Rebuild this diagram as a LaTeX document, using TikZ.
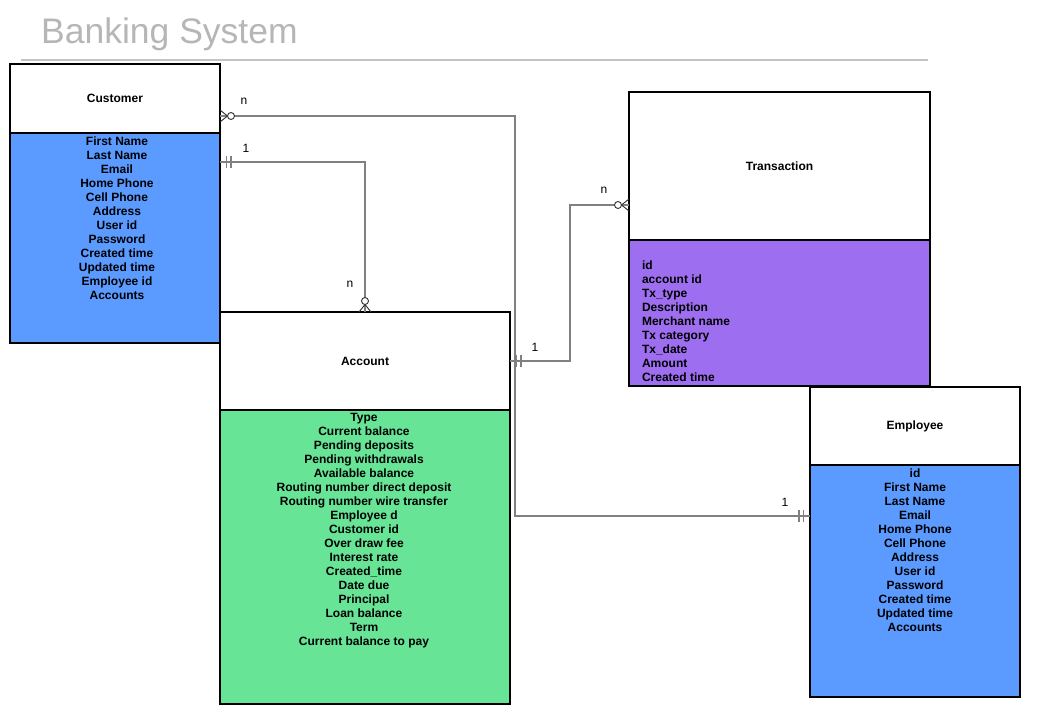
\documentclass[tikz,border=0pt]{standalone}
\usepackage{fontspec}
\setmainfont{Liberation Sans}
\usepackage{xcolor}
\usetikzlibrary{calc,decorations.markings,positioning}
\definecolor{custblue}{RGB}{91,155,255}
\definecolor{acctgreen}{RGB}{103,228,150}
\definecolor{txpurple}{RGB}{158,110,240}
\definecolor{titlegrey}{RGB}{182,182,182}
\definecolor{rulegrey}{RGB}{196,196,196}
\definecolor{linkgrey}{RGB}{128,128,128}
\tikzset{%
  entity/.style={rectangle,draw=black,line width=2pt,inner sep=0pt,outer sep=0pt,font=\bfseries\fontsize{12}{14}\selectfont},
  fields/.style={inner sep=0pt,outer sep=0pt,align=center,font=\bfseries\fontsize{12}{14}\selectfont},
  mult/.style={inner sep=0pt,font=\fontsize{12}{14}\selectfont},
  link/.style={draw=linkgrey,line width=1.5pt},
  foot/.style={draw=black!80,line width=0.9pt},
  tick/.style={draw=linkgrey,line width=1.5pt},
  zeromany start/.style={postaction={decorate,decoration={markings,mark=at position 0 with {
    \draw[foot] (0,-6pt) -- (7.5pt,0) (0,6pt) -- (7.5pt,0);
    \draw[foot,fill=white] (11pt,0) circle (3.5pt);}}}},
  zeromany end/.style={postaction={decorate,decoration={markings,mark=at position 1 with {
    \draw[foot] (0,-6pt) -- (-7.5pt,0) (0,6pt) -- (-7.5pt,0);
    \draw[foot,fill=white] (-11pt,0) circle (3.5pt);}}}},
  one start/.style={postaction={decorate,decoration={markings,mark=at position 0 with {
    \draw[tick] (6.5pt,-6pt) -- (6.5pt,6pt) (11pt,-6pt) -- (11pt,6pt);}}}},
  one end/.style={postaction={decorate,decoration={markings,mark=at position 1 with {
    \draw[tick] (-6.5pt,-6pt) -- (-6.5pt,6pt) (-11pt,-6pt) -- (-11pt,6pt);}}}},
}

\begin{document}
\begin{tikzpicture}[x=1pt,y=-1pt]
  \useasboundingbox (0,0) rectangle (1044,724);

  % title
  \node[anchor=base west,inner sep=0pt,text=titlegrey,font=\fontsize{35.5}{40}\selectfont] (title) at (41,43) {Banking System};
  \draw[rulegrey,line width=2pt] (21,60) -- (928,60);

  % entities
  \node[entity,anchor=north west,minimum width=210pt,minimum height=69pt] (customer) at (10,64) {Customer};
  \node[entity,fill=custblue,minimum width=210pt,minimum height=210pt,below=0pt of customer] (custfields) {};
  \node[fields,below=3.5pt of custfields.north,xshift=2pt] (custlist) {First Name\\Last Name\\Email\\Home Phone\\Cell Phone\\Address\\User id\\Password\\Created time\\Updated time\\Employee id\\Accounts};

  \node[entity,anchor=north west,minimum width=290pt,minimum height=98pt] (account) at (220,312) {Account};
  \node[entity,fill=acctgreen,minimum width=290pt,minimum height=294pt,below=0pt of account] (acctfields) {};
  \node[fields,below=3.5pt of acctfields.north,xshift=-1pt] (acctlist) {Type\\Current balance\\Pending deposits\\Pending withdrawals\\Available balance\\Routing number direct deposit\\Routing number wire transfer\\Employee d\\Customer id\\Over draw fee\\Interest rate\\Created\_time\\Date due\\Principal\\Loan balance\\Term\\Current balance to pay};

  \node[entity,anchor=north west,minimum width=301pt,minimum height=148pt] (transaction) at (629,92) {Transaction};
  \node[entity,fill=txpurple,minimum width=301pt,minimum height=146pt,below=0pt of transaction] (txfields) {};
  \node[fields,align=left,below right=20.5pt and 13pt of txfields.north west] (txlist) {id\\account id\\Tx\_type\\Description\\Merchant name\\Tx category\\Tx\_date\\Amount\\Created time};

  \node[entity,anchor=north west,minimum width=210pt,minimum height=78pt] (employee) at (810,387) {Employee};
  \node[entity,fill=custblue,minimum width=210pt,minimum height=232pt,below=0pt of employee] (empfields) {};
  \node[fields,below=3.5pt of empfields.north] (emplist) {id\\First Name\\Last Name\\Email\\Home Phone\\Cell Phone\\Address\\User id\\Password\\Created time\\Updated time\\Accounts};

  % relations
  \draw[link,zeromany start,one end] ([yshift=-17.5pt]customer.east) -- ++(295pt,0) |- ([yshift=-51pt]empfields.north west);
  \draw[link,one start,zeromany end] ([yshift=-29pt]custfields.north east) -| (account.north);
  \draw[link,one start,zeromany end] (account.east) -- ++(60pt,0) |- ([yshift=-39pt]transaction.west);

  % multiplicities
  \node[mult] (custn) at (244,101) {n};
  \node[mult] (cust1) at (246,148) {1};
  \node[mult] (acctn) at (350,284) {n};
  \node[mult] (acct1) at (535,347) {1};
  \node[mult] (txn) at (604,190) {n};
  \node[mult] (emp1) at (785,502) {1};
\end{tikzpicture}
\end{document}
